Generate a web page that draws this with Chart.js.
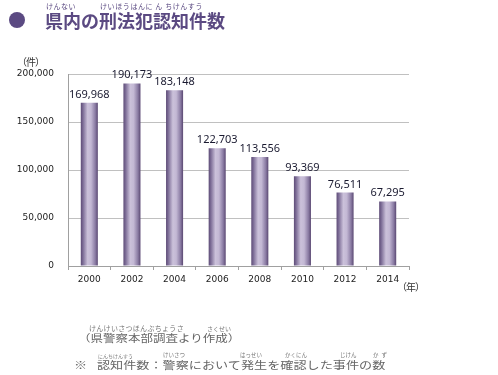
<!DOCTYPE html>
<html>
<head>
<meta charset="utf-8">
<script src="https://cdn.jsdelivr.net/npm/chart.js@4.4.0/dist/chart.umd.min.js"></script>
<style>
  body { margin: 0; background: #fff; }
  #wrap { position: relative; width: 498px; height: 375px; overflow: hidden; font-family: "Noto Sans CJK JP", sans-serif; }
  #grafico { position: absolute; left: 0; top: 0; }
  .t { position: absolute; white-space: nowrap; line-height: 1; }
  .ruby { font-size: 7px; }
  .largo { transform: scaleX(1.25); transform-origin: left center; }
</style>
</head>
<body>
<div id="wrap">
  <canvas id="grafico" width="498" height="375"></canvas>

  <div style="position:absolute;left:9px;top:12px;width:16px;height:16px;border-radius:50%;background:#5b4a82;"></div>
  <div class="t ruby" style="left:46px;top:3px;color:#5b4a82;letter-spacing:0.5px;">けんない</div>
  <div class="t ruby" style="left:100px;top:3px;color:#5b4a82;letter-spacing:0.6px;">けいほうはんに ん ちけんすう</div>
  <div class="t" style="left:45px;top:11px;font-size:18px;font-weight:bold;color:#5b4a82;">県内の刑法犯認知件数</div>

  <div class="t" style="left:17px;top:57px;font-size:10px;color:#333;letter-spacing:-1px;">（件）</div>
  <div class="t" style="left:397px;top:282px;font-size:10px;color:#333;letter-spacing:-1px;">（年）</div>

  <div class="t ruby" style="left:89px;top:325px;color:#777;letter-spacing:0.3px;">けんけいさつほんぶちょうさ</div>
  <div class="t ruby" style="left:207px;top:326px;color:#777;font-size:6px;">さくせい</div>
  <div class="t largo" style="left:78px;top:333px;font-size:10px;color:#666;">（県警察本部調査より作成）</div>

  <div class="t ruby" style="left:98px;top:353px;color:#777;font-size:5px;">にんちけんすう</div>
  <div class="t ruby" style="left:163px;top:353px;color:#777;font-size:5.5px;">けいさつ</div>
  <div class="t ruby" style="left:240px;top:353px;color:#777;font-size:5.5px;">はっせい</div>
  <div class="t ruby" style="left:285px;top:353px;color:#777;font-size:5.5px;">かくにん</div>
  <div class="t ruby" style="left:340px;top:353px;color:#777;font-size:5.5px;">じけん</div>
  <div class="t ruby" style="left:373px;top:353px;color:#777;font-size:5.5px;letter-spacing:3px;">かず</div>
  <div class="t largo" style="left:74px;top:360px;font-size:10.5px;color:#666;">※</div>
  <div class="t largo" style="left:97px;top:360px;font-size:10.5px;color:#666;">認知件数：警察において発生を確認した事件の数</div>
</div>

<script>
  const anos = ['2000', '2002', '2004', '2006', '2008', '2010', '2012', '2014'];
  const crimes = [169968, 190173, 183148, 122703, 113556, 93369, 76511, 67295];
  const ticksY = [0, 50000, 100000, 150000, 200000];

  const larguraBarra = 0.4;

  function formatar(v) {
    return v.toLocaleString('en-US');
  }

  // gradiente horizontal tipo cilindro
  function corBarra(context) {
    const chart = context.chart;
    const escala = chart.scales.x;
    if (!escala || !chart.chartArea) return '#9a8cb0';
    const x = escala.getPixelForValue(context.dataIndex);
    const w = (escala.width / anos.length) * larguraBarra;
    const g = chart.ctx.createLinearGradient(x - w / 2, 0, x + w / 2, 0);
    g.addColorStop(0, '#5e4c77');
    g.addColorStop(0.12, '#7a6a94');
    g.addColorStop(0.4, '#cbc1da');
    g.addColorStop(0.6, '#c3b8d4');
    g.addColorStop(0.85, '#8a7ba3');
    g.addColorStop(1, '#5a4872');
    return g;
  }

  const rotulos = {
    id: 'rotulos',
    afterDatasetsDraw(chart) {
      const ctx = chart.ctx;
      const meta = chart.getDatasetMeta(0);
      ctx.save();
      ctx.font = '11px "Noto Sans", sans-serif';
      ctx.fillStyle = '#1a1a30';
      ctx.textAlign = 'center';
      ctx.textBaseline = 'alphabetic';
      meta.data.forEach((barra, i) => {
        ctx.fillText(formatar(crimes[i]), barra.x, barra.y - 5);
      });
      ctx.restore();
    }
  };

  const ctx = document.getElementById('grafico').getContext('2d');
  new Chart(ctx, {
    type: 'bar',
    data: {
      labels: anos,
      datasets: [{
        data: crimes,
        backgroundColor: corBarra,
        borderWidth: 0,
        categoryPercentage: 1,
        barPercentage: larguraBarra
      }]
    },
    options: {
      responsive: false,
      animation: false,
      layout: { padding: { left: 0, top: 74, right: 89, bottom: 79 } },
      plugins: { legend: { display: false }, tooltip: { enabled: false } },
      scales: {
        x: {
          afterFit: s => { s.height = 30; },
          grid: { drawOnChartArea: false, offset: true, tickLength: 4, color: '#a0a0a0' },
          border: { color: '#a0a0a0' },
          ticks: { padding: 4, color: '#222', font: { family: '"DejaVu Sans"', size: 9 } }
        },
        y: {
          min: 0,
          max: 200000,
          afterFit: s => { s.width = 68; },
          afterBuildTicks: s => { s.ticks = ticksY.map(v => ({ value: v })); },
          grid: { color: '#c0c0c0', drawTicks: false },
          border: { color: '#a0a0a0' },
          ticks: {
            padding: 14,
            color: '#222',
            font: { family: '"DejaVu Sans"', size: 9 },
            callback: v => formatar(v)
          }
        }
      }
    },
    plugins: [rotulos]
  });
</script>
</body>
</html>
